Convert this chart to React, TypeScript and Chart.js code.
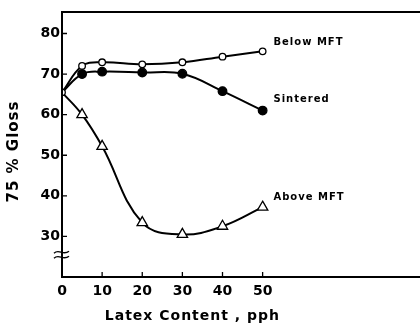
import React, { useEffect, useRef } from "react";
import { Chart, registerables } from "chart.js";

Chart.register(...registerables);

const latex = [0, 5, 10, 20, 30, 40, 50];
const belowMFT = [65.5, 72, 72.9, 72.4, 72.9, 74.3, 75.6];
const sintered = [65.5, 70, 70.6, 70.4, 70.1, 65.8, 61];
const aboveMFT = [65.5, 60, 52.2, 33.4, 30.5, 32.5, 37.2];
const xTicks = [0, 10, 20, 30, 40, 50];
const yTicks = [30, 40, 50, 60, 70, 80];
const seriesNames = ["Below MFT", "Sintered", "Above MFT"];
const labelAnchorsX = [52.7, 52.7, 52.7];
const labelAnchorsY = [77.8, 63.7, 39.6];

const FONT = "'DejaVu Sans', 'Liberation Sans', sans-serif";

const framePlugin = {
  id: "frame",
  afterDraw(chart: any) {
    const { ctx, chartArea } = chart;
    const { left, top, bottom } = chartArea;
    const right = chart.width;
    const xs = chart.scales.x;
    const ys = chart.scales.y;
    ctx.save();
    ctx.strokeStyle = "#000";
    ctx.lineWidth = 2;
    ctx.beginPath();
    ctx.moveTo(right + 2, top);
    ctx.lineTo(left, top);
    ctx.lineTo(left, bottom);
    ctx.lineTo(right + 2, bottom);
    ctx.stroke();
    ctx.lineWidth = 1.3;
    ctx.beginPath();
    xTicks.forEach((v) => {
      if (v === 0) return;
      const px = xs.getPixelForValue(v);
      ctx.moveTo(px, bottom);
      ctx.lineTo(px, bottom - 5);
    });
    yTicks.forEach((v) => {
      const py = ys.getPixelForValue(v);
      ctx.moveTo(left - 1, py);
      ctx.lineTo(left + 5, py);
    });
    ctx.stroke();
    // axis break
    const by = ys.getPixelForValue(25.5);
    ctx.lineWidth = 1.4;
    [-2.5, 2.5].forEach((d) => {
      ctx.beginPath();
      ctx.moveTo(left - 8, by + d + 1);
      ctx.bezierCurveTo(left - 3, by + d - 4, left + 1, by + d + 4, left + 7, by + d - 1);
      ctx.stroke();
    });
    // series labels
    ctx.fillStyle = "#000";
    ctx.font = `bold 10px ${FONT}`;
    (ctx as any).letterSpacing = "1px";
    ctx.textBaseline = "middle";
    ctx.textAlign = "left";
    seriesNames.forEach((name, i) => {
      ctx.fillText(name, xs.getPixelForValue(labelAnchorsX[i]), ys.getPixelForValue(labelAnchorsY[i]));
    });
    // axis titles
    ctx.font = `bold 14px ${FONT}`;
    ctx.textAlign = "center";
    ctx.fillText("Latex Content , pph", xs.getPixelForValue(32.5), 316);
    ctx.translate(14, (top + bottom) / 2 + 7);
    ctx.rotate(-Math.PI / 2);
    ctx.font = `bold 15px ${FONT}`;
    ctx.fillText("75 % Gloss", 0, 0);
    ctx.restore();
  },
};

export default function App() {
  const ref = useRef<HTMLCanvasElement>(null);
  useEffect(() => {
    document.body.style.margin = "0";
    const canvas = ref.current!;
    const common = {
      borderColor: "#000",
      borderWidth: 2,
      pointBorderColor: "#000",
      pointBorderWidth: 1.3,
      tension: 0.4,
    };
    const chart = new Chart(canvas, {
      type: "line",
      data: {
        datasets: [
          {
            ...common,
            label: seriesNames[0],
            data: latex.map((x, i) => ({ x, y: belowMFT[i] })),
            pointStyle: "circle",
            pointRadius: 3.3,
            pointBackgroundColor: "#fff",
          },
          {
            ...common,
            label: seriesNames[1],
            data: latex.map((x, i) => ({ x, y: sintered[i] })),
            pointStyle: "circle",
            pointRadius: latex.map((x) => (x === 0 ? 0 : 4.3)),
            pointBackgroundColor: "#000",
          },
          {
            ...common,
            label: seriesNames[2],
            data: latex.map((x, i) => ({ x, y: aboveMFT[i] })),
            pointStyle: "triangle",
            pointRadius: latex.map((x) => (x === 0 ? 0 : 6)),
            pointBackgroundColor: "#fff",
          },
        ],
      },
      options: {
        animation: false,
        responsive: false,
        maintainAspectRatio: false,
        devicePixelRatio: 1,
        layout: { padding: { top: 12, left: 0, right: 0, bottom: 0 } },
        plugins: { legend: { display: false }, tooltip: { enabled: false } },
        scales: {
          x: {
            type: "linear",
            min: 0,
            max: 87.4,
            afterBuildTicks: (s: any) => {
              s.ticks = xTicks.map((v) => ({ value: v }));
            },
            afterFit: (s: any) => {
              s.height = 51;
            },
            grid: { display: false, drawTicks: false },
            border: { display: false },
            ticks: {
              color: "#000",
              padding: 6,
              font: { family: FONT, size: 14, weight: "bold" },
              maxRotation: 0,
              autoSkip: false,
            },
          },
          y: {
            type: "linear",
            min: 20,
            max: 85.3,
            afterBuildTicks: (s: any) => {
              s.ticks = yTicks.map((v) => ({ value: v }));
            },
            afterFit: (s: any) => {
              s.width = 62;
            },
            grid: { display: false, drawTicks: false },
            border: { display: false },
            ticks: {
              color: "#000",
              padding: 2,
              font: { family: FONT, size: 14, weight: "bold" },
            },
          },
        },
      },
      plugins: [framePlugin],
    } as any);
    return () => chart.destroy();
  }, []);
  return (
    <div style={{ position: "absolute", left: 0, top: 0, width: 420, height: 328 }}>
      <canvas ref={ref} width={420} height={328} style={{ width: 420, height: 328 }} />
    </div>
  );
}
